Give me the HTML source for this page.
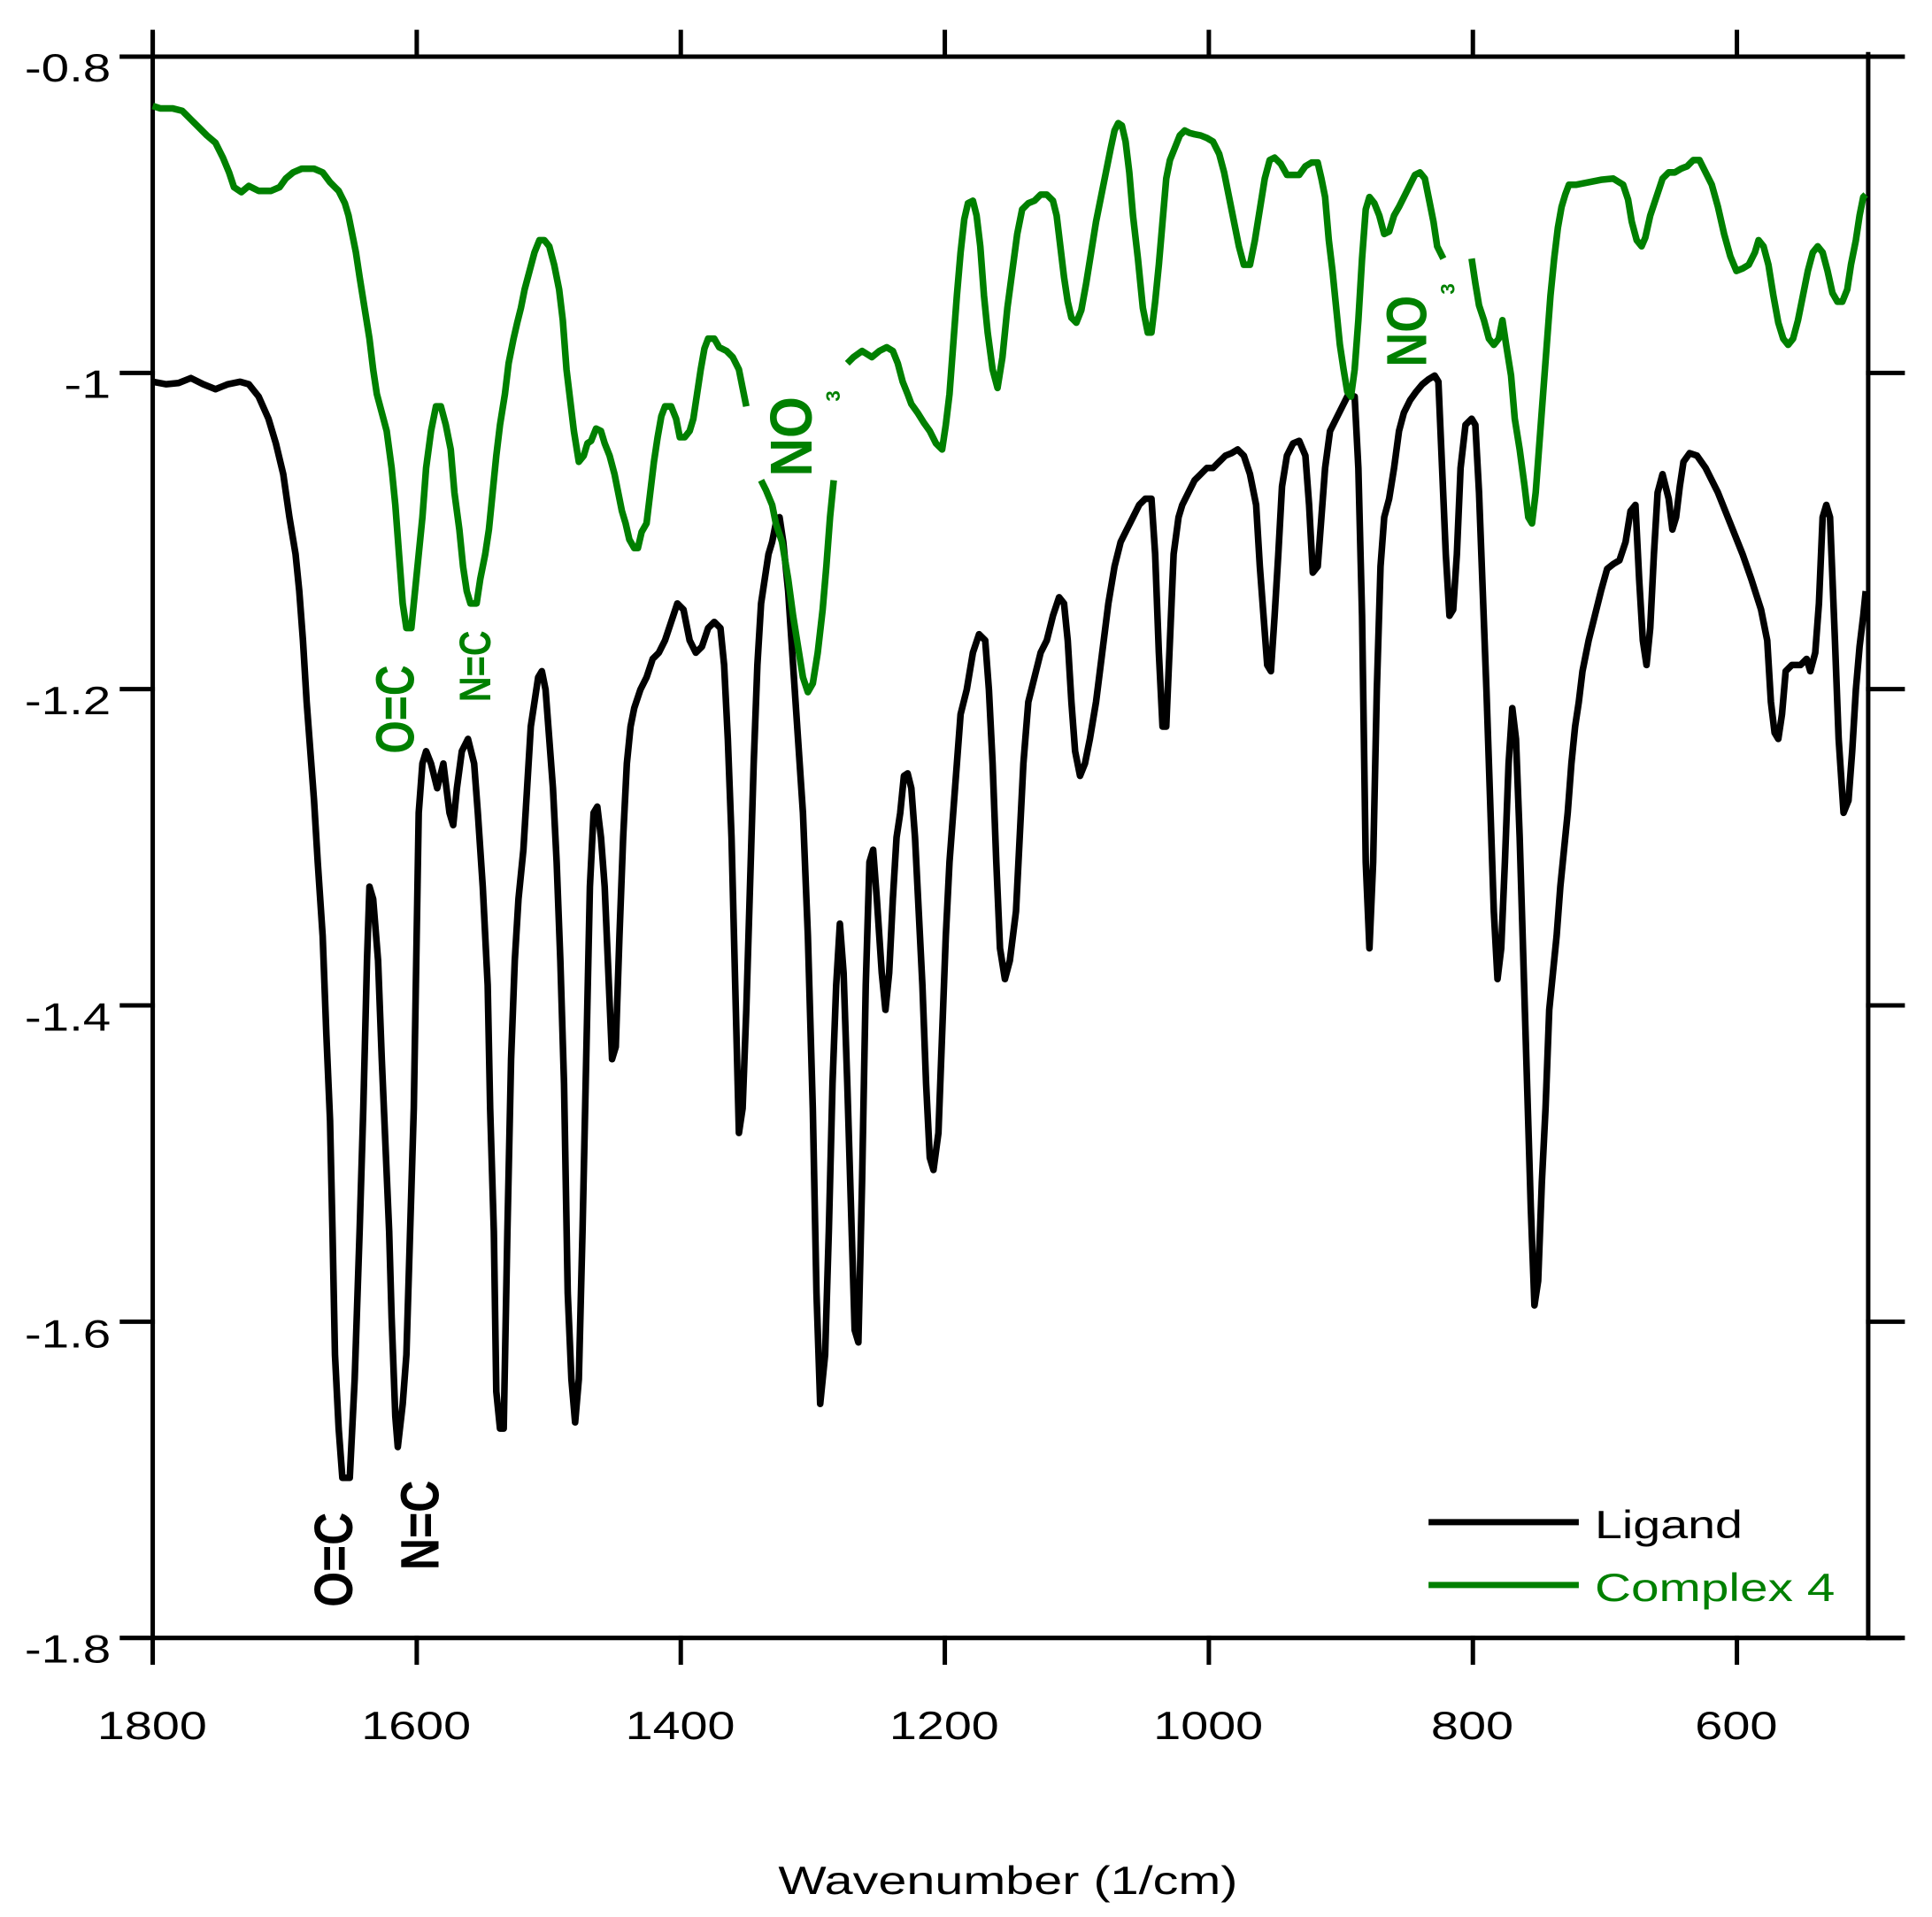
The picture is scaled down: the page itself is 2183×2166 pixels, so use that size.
<!DOCTYPE html>
<html><head><meta charset="utf-8"><style>html,body{margin:0;padding:0;background:#fff}svg{display:block}</style></head>
<body>
<svg xmlns="http://www.w3.org/2000/svg" width="2183" height="2166" viewBox="0 0 1568.8 1556.6">
<rect x="0" y="0" width="1568.8" height="1556.6" fill="#fff"/>
<g stroke="#000" stroke-width="3.6" fill="none" stroke-linecap="square">
<line x1="124" y1="28" x2="124" y2="1330"/>
<line x1="99" y1="46" x2="1517" y2="46"/>
<line x1="1517" y1="44" x2="1517" y2="1330"/>
<line x1="124" y1="1330" x2="1542" y2="1330"/>
<path d="M99,46H124M99,302.8H124M99,559.6H124M99,816.4H124M99,1073.2H124M99,1330H124
M1517,46H1545M1517,302.8H1545M1517,559.6H1545M1517,816.4H1545M1517,1073.2H1545M1517,1330H1545
M124,1330V1350M338.4,1330V1350M552.8,1330V1350M767.2,1330V1350M981.6,1330V1350M1196,1330V1350M1410.4,1330V1350
M124,26V46M338.4,26V46M552.8,26V46M767.2,26V46M981.6,26V46M1196,26V46M1410.4,26V46"/>
</g>
<g font-family="Liberation Sans, sans-serif" font-size="32" fill="#000">
<text x="20" y="66" textLength="70" lengthAdjust="spacingAndGlyphs">-0.8</text>
<text x="52" y="323" textLength="38" lengthAdjust="spacingAndGlyphs">-1</text>
<text x="20" y="580" textLength="70" lengthAdjust="spacingAndGlyphs">-1.2</text>
<text x="20" y="837" textLength="70" lengthAdjust="spacingAndGlyphs">-1.4</text>
<text x="20" y="1094" textLength="70" lengthAdjust="spacingAndGlyphs">-1.6</text>
<text x="20" y="1350" textLength="70" lengthAdjust="spacingAndGlyphs">-1.8</text>
<text x="79" y="1412" textLength="89" lengthAdjust="spacingAndGlyphs">1800</text>
<text x="293.4" y="1412" textLength="89" lengthAdjust="spacingAndGlyphs">1600</text>
<text x="507.8" y="1412" textLength="89" lengthAdjust="spacingAndGlyphs">1400</text>
<text x="722.2" y="1412" textLength="89" lengthAdjust="spacingAndGlyphs">1200</text>
<text x="936.6" y="1412" textLength="89" lengthAdjust="spacingAndGlyphs">1000</text>
<text x="1162" y="1412" textLength="67" lengthAdjust="spacingAndGlyphs">800</text>
<text x="1376.4" y="1412" textLength="67" lengthAdjust="spacingAndGlyphs">600</text>
<text x="632" y="1538" textLength="373" lengthAdjust="spacingAndGlyphs">Wavenumber (1/cm)</text>
<text x="1295" y="1249" textLength="120" lengthAdjust="spacingAndGlyphs">Ligand</text>
<text x="1295" y="1300" fill="#008000" textLength="195" lengthAdjust="spacingAndGlyphs">Complex 4</text>
</g>
<line x1="1160" y1="1236" x2="1282" y2="1236" stroke="#000" stroke-width="5"/>
<line x1="1160" y1="1287" x2="1282" y2="1287" stroke="#008000" stroke-width="5"/>
<g fill="none" stroke-width="5.4" stroke-linejoin="round">
<polyline stroke="#000" points="124,310 135,312 145,311 155,307 165,312 175,316 185,312 195,310 202,312 210,322 218,340 224,360 230,385 235,420 240,450 243,480 246,520 249,570 252,610 255,650 258,700 262,760 265,840 268,910 270,1000 272,1100 275,1160 278,1200 284,1200 288,1120 292,1000 295,900 298,780 300,720 303,730 307,780 310,860 313,930 316,1000 318,1070 321,1150 323,1175 327,1140 330,1100 333,1000 336,900 338,780 340,660 343,620 346,610 350,620 355,640 360,620 365,660 368,670 371,640 375,610 380,600 385,620 388,660 392,720 396,800 398,900 401,1000 403,1130 406,1160 409,1160 412,1000 415,860 418,780 421,730 425,690 428,640 431,590 434,570 437,550 440,545 443,560 446,600 449,640 452,700 455,780 458,880 461,1050 464,1120 467,1155 470,1120 473,1000 476,860 479,720 482,660 485,655 488,680 491,720 494,790 497,860 500,850 503,760 506,680 509,620 512,590 515,575 520,560 525,550 530,535 535,530 540,520 545,505 550,490 555,495 560,520 565,530 570,525 575,510 580,505 585,510 588,540 591,600 594,680 597,800 600,920 603,900 606,820 609,720 612,620 615,540 618,490 621,470 624,450 627,440 630,425 633,420 636,440 640,480 644,540 648,600 652,660 656,760 660,900 663,1050 666,1140 670,1100 673,1000 676,880 679,800 682,750 685,790 688,880 691,980 694,1080 697,1090 700,960 703,800 706,700 709,690 712,730 716,790 719,820 722,790 725,730 728,680 731,660 734,630 737,628 740,640 743,680 746,740 749,800 752,880 755,940 758,950 762,920 765,840 768,760 771,700 774,660 777,620 780,580 785,560 790,530 795,515 800,520 803,560 806,620 809,700 812,770 816,795 820,780 825,740 828,680 831,620 835,570 840,550 845,530 850,520 855,500 860,485 864,490 867,520 870,570 873,610 877,630 881,620 885,600 890,570 895,530 900,490 905,460 910,440 915,430 920,420 925,410 930,405 935,405 938,450 941,530 944,590 947,590 950,520 953,450 957,420 960,410 965,400 970,390 975,385 980,380 985,380 990,375 995,370 1000,368 1005,365 1010,370 1015,385 1020,410 1023,460 1026,500 1029,540 1032,545 1035,500 1038,450 1041,395 1045,370 1050,360 1055,358 1060,370 1063,410 1066,465 1070,460 1073,420 1076,380 1080,350 1085,340 1090,330 1095,320 1100,322 1103,380 1106,500 1109,700 1112,770 1115,700 1118,560 1121,460 1124,420 1128,405 1132,380 1136,350 1140,335 1145,325 1150,318 1155,312 1160,308 1165,305 1168,310 1171,380 1174,450 1177,500 1180,495 1183,450 1186,380 1190,345 1195,340 1198,345 1201,400 1204,480 1207,560 1210,650 1213,740 1216,795 1219,770 1222,700 1225,620 1228,575 1231,600 1234,680 1237,780 1240,880 1243,980 1246,1060 1249,1040 1252,960 1255,900 1258,820 1261,790 1264,760 1267,720 1270,690 1273,660 1276,620 1279,590 1282,570 1285,545 1290,520 1295,500 1300,480 1305,462 1310,458 1315,455 1320,440 1324,415 1328,410 1331,470 1334,520 1337,540 1340,510 1343,450 1346,400 1350,385 1355,405 1358,430 1361,420 1364,395 1367,375 1372,368 1378,370 1385,380 1395,400 1405,425 1415,450 1422,470 1430,495 1435,520 1438,570 1441,595 1444,600 1447,580 1450,545 1455,540 1462,540 1467,535 1470,545 1474,530 1477,490 1480,420 1483,410 1486,420 1490,520 1493,600 1497,660 1501,650 1504,610 1507,560 1510,525 1513,500 1515,480"/>
<g stroke="#008000">
<polyline points="124,86 130,88 140,88 148,90 155,97 162,104 168,110 175,116 181,128 186,140 190,152 196,156 202,151 210,155 220,155 227,152 232,145 238,140 245,137 255,137 262,140 268,148 275,155 280,165 283,175 286,190 289,205 292,225 296,250 300,275 303,300 306,320 310,335 314,350 318,380 321,410 324,450 327,490 330,510 334,510 337,480 340,450 343,420 346,380 350,350 354,330 358,330 362,345 366,365 369,400 373,430 376,460 379,480 382,490 387,490 390,470 394,450 397,430 400,400 403,370 406,345 410,320 413,295 417,275 420,262 423,250 426,235 430,220 434,205 438,195 442,195 446,200 450,215 454,235 457,260 460,300 463,325 466,350 470,375 474,370 477,360 480,358 484,348 488,350 491,360 495,370 499,385 502,400 505,415 508,425 511,438 515,445 518,445 521,432 525,425 528,400 531,375 534,355 537,338 540,330 545,330 549,340 552,355 556,355 560,350 563,340 566,320 569,300 572,283 575,275 580,275 584,282 590,285 595,290 600,300 603,315 606,330"/>
<polyline points="618,390 622,398 627,410 630,425 635,440 640,470 644,500 648,525 652,550 656,562 660,555 664,530 668,495 671,460 674,420 677,390"/>
<polyline points="688,295 693,290 700,285 708,290 714,285 720,282 725,285 729,295 733,310 737,320 740,328 745,335 750,343 755,350 760,360 765,365 768,345 771,320 774,280 777,240 780,205 783,178 786,165 790,163 793,175 796,200 799,240 802,270 806,300 810,315 814,290 818,250 822,220 826,190 830,170 835,165 840,163 845,158 850,158 855,163 858,175 861,200 864,225 867,245 870,258 874,262 878,252 882,230 886,205 890,180 894,160 898,140 902,120 905,106 908,100 911,102 914,115 917,140 920,175 924,210 928,250 932,270 935,270 938,245 941,215 944,180 947,145 950,130 954,120 958,110 962,106 966,108 970,109 975,110 980,112 985,115 990,125 994,140 998,160 1002,180 1006,200 1010,215 1015,215 1019,195 1023,170 1027,145 1031,130 1035,128 1040,133 1045,142 1050,142 1055,142 1060,135 1065,132 1070,132 1073,145 1076,160 1079,195 1082,220 1085,250 1088,280 1091,300 1094,318 1097,322 1100,300 1103,260 1106,210 1109,170 1112,160 1116,165 1120,175 1124,190 1128,188 1132,175 1136,168 1140,160 1145,150 1149,142 1153,140 1157,145 1160,160 1164,180 1167,200 1172,210"/>
<polyline points="1195,210 1198,230 1201,248 1205,260 1209,275 1213,280 1217,275 1220,260 1223,280 1227,305 1230,340 1234,365 1238,395 1241,420 1244,425 1247,400 1250,360 1253,320 1256,280 1259,240 1262,210 1265,185 1268,168 1271,158 1274,150 1280,150 1290,148 1300,146 1310,145 1318,150 1322,162 1325,180 1329,195 1333,200 1336,193 1340,175 1345,160 1350,145 1355,140 1360,140 1365,137 1370,135 1375,130 1380,130 1385,140 1390,150 1395,168 1400,190 1405,208 1410,220 1415,218 1420,215 1425,205 1428,195 1432,200 1436,215 1440,240 1444,262 1448,275 1452,280 1456,275 1460,260 1464,240 1468,220 1472,205 1476,200 1480,205 1484,220 1488,238 1492,245 1496,245 1500,235 1503,215 1507,195 1510,175 1513,160 1515,158"/>
</g>
</g>
<g font-family="Liberation Sans, sans-serif" font-weight="bold">
<text transform="translate(286,1305) rotate(-90)" font-size="44" textLength="77" lengthAdjust="spacingAndGlyphs" fill="#000">O=C</text>
<text transform="translate(356,1275) rotate(-90)" font-size="44" textLength="73" lengthAdjust="spacingAndGlyphs" fill="#000">N=C</text>
<text transform="translate(336,612) rotate(-90)" font-size="44" textLength="72" lengthAdjust="spacingAndGlyphs" fill="#008000">O=C</text>
<text transform="translate(398,570) rotate(-90)" font-size="36" textLength="58" lengthAdjust="spacingAndGlyphs" fill="#008000">N=C</text>
<text transform="translate(659,387) rotate(-90)" font-size="48" textLength="65" lengthAdjust="spacingAndGlyphs" fill="#008000">NO</text>
<text transform="translate(682,326) rotate(-90)" font-size="16" fill="#008000">3</text>
<text transform="translate(1158,298) rotate(-90)" font-size="46" textLength="58" lengthAdjust="spacingAndGlyphs" fill="#008000">NO</text>
<text transform="translate(1181,239) rotate(-90)" font-size="16" fill="#008000">3</text>
</g>
</svg>
</body></html>
